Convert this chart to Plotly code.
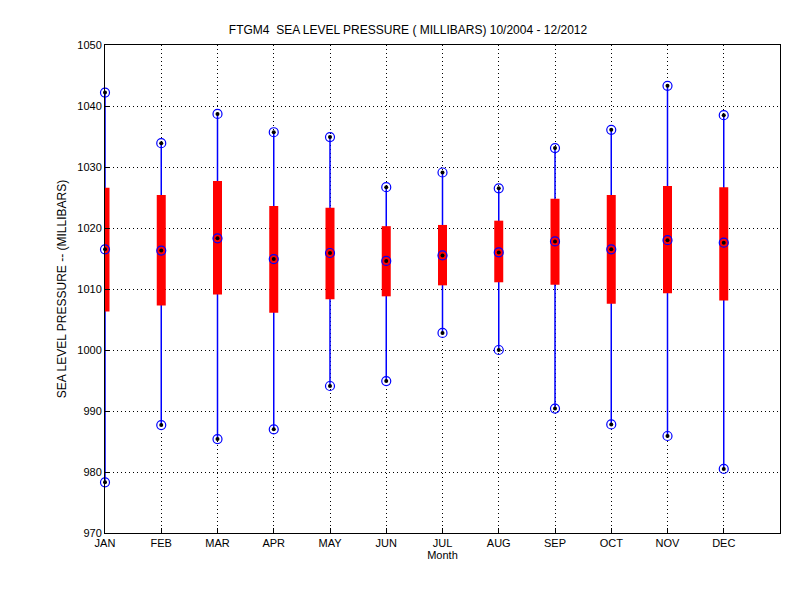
import plotly.graph_objects as go

months = ["JAN","FEB","MAR","APR","MAY","JUN","JUL","AUG","SEP","OCT","NOV","DEC"]
vmax = [1042.2,1033.9,1038.7,1035.7,1034.9,1026.7,1029.1,1026.5,1033.1,1036.1,1043.3,1038.5]
vmin = [978.3,987.7,985.4,987.0,994.1,994.9,1002.8,1000.0,990.4,987.8,985.9,980.5]
vmean = [1016.5,1016.3,1018.3,1014.9,1015.9,1014.6,1015.5,1016.0,1017.8,1016.5,1018.0,1017.6]
box_hi = [1026.6,1025.4,1027.7,1023.6,1023.3,1020.3,1020.5,1021.2,1024.8,1025.4,1026.9,1026.7]
box_lo = [1006.3,1007.3,1009.1,1006.1,1008.3,1008.8,1010.6,1011.1,1010.7,1007.6,1009.3,1008.1]

xs = list(range(1, 13))
fig = go.Figure()

lx, ly = [], []
for x, a, b in zip(xs, vmin, vmax):
    lx += [x, x, None]; ly += [a, b, None]
fig.add_trace(go.Scatter(x=lx, y=ly, mode="lines", line=dict(color="#0000ff", width=1.5),
                         hoverinfo="skip", cliponaxis=False))

bx, by = [], []
for x, a, b in zip(xs, box_lo, box_hi):
    bx += [x, x, None]; by += [a, b, None]
fig.add_trace(go.Scatter(x=bx, y=by, mode="lines", line=dict(color="#ff0000", width=9),
                         hoverinfo="skip", cliponaxis=False))

px = xs * 3
py = vmax + vmin + vmean
fig.add_trace(go.Scatter(x=px, y=py, mode="markers", cliponaxis=False,
                         marker=dict(symbol="circle-open", size=9, color="#0000ff", line=dict(width=1.2))))
fig.add_trace(go.Scatter(x=px, y=py, mode="markers", cliponaxis=False,
                         marker=dict(symbol="circle", size=4, color="black")))

axis_common = dict(showline=True, linecolor="black", linewidth=1, mirror=True, ticks="inside",
                   ticklen=5, tickcolor="black", showgrid=True, gridcolor="black", griddash="1px,3px",
                   gridwidth=1, zeroline=False, tickfont=dict(size=11, color="black"))
fig.update_xaxes(range=[1, 13], tickvals=xs, ticktext=months,
                 title=dict(text="Month", font=dict(size=11, color="black"), standoff=2), **axis_common)
fig.update_yaxes(range=[970, 1050], dtick=10,
                 title=dict(text="SEA LEVEL PRESSURE -- (MILLIBARS)", font=dict(size=12, color="black"), standoff=8),
                 **axis_common)
fig.update_layout(width=800, height=600, showlegend=False,
                  paper_bgcolor="white", plot_bgcolor="white",
                  font=dict(family="Liberation Sans, Arial, sans-serif", color="black"),
                  margin=dict(l=97, r=28, t=37, b=75),
                  title=dict(text="FTGM4  SEA LEVEL PRESSURE ( MILLIBARS) 10/2004 - 12/2012",
                             x=0.5, xanchor="center", y=0.963, yanchor="middle",
                             font=dict(size=12, color="black")))
fig.write_html("out.html")
